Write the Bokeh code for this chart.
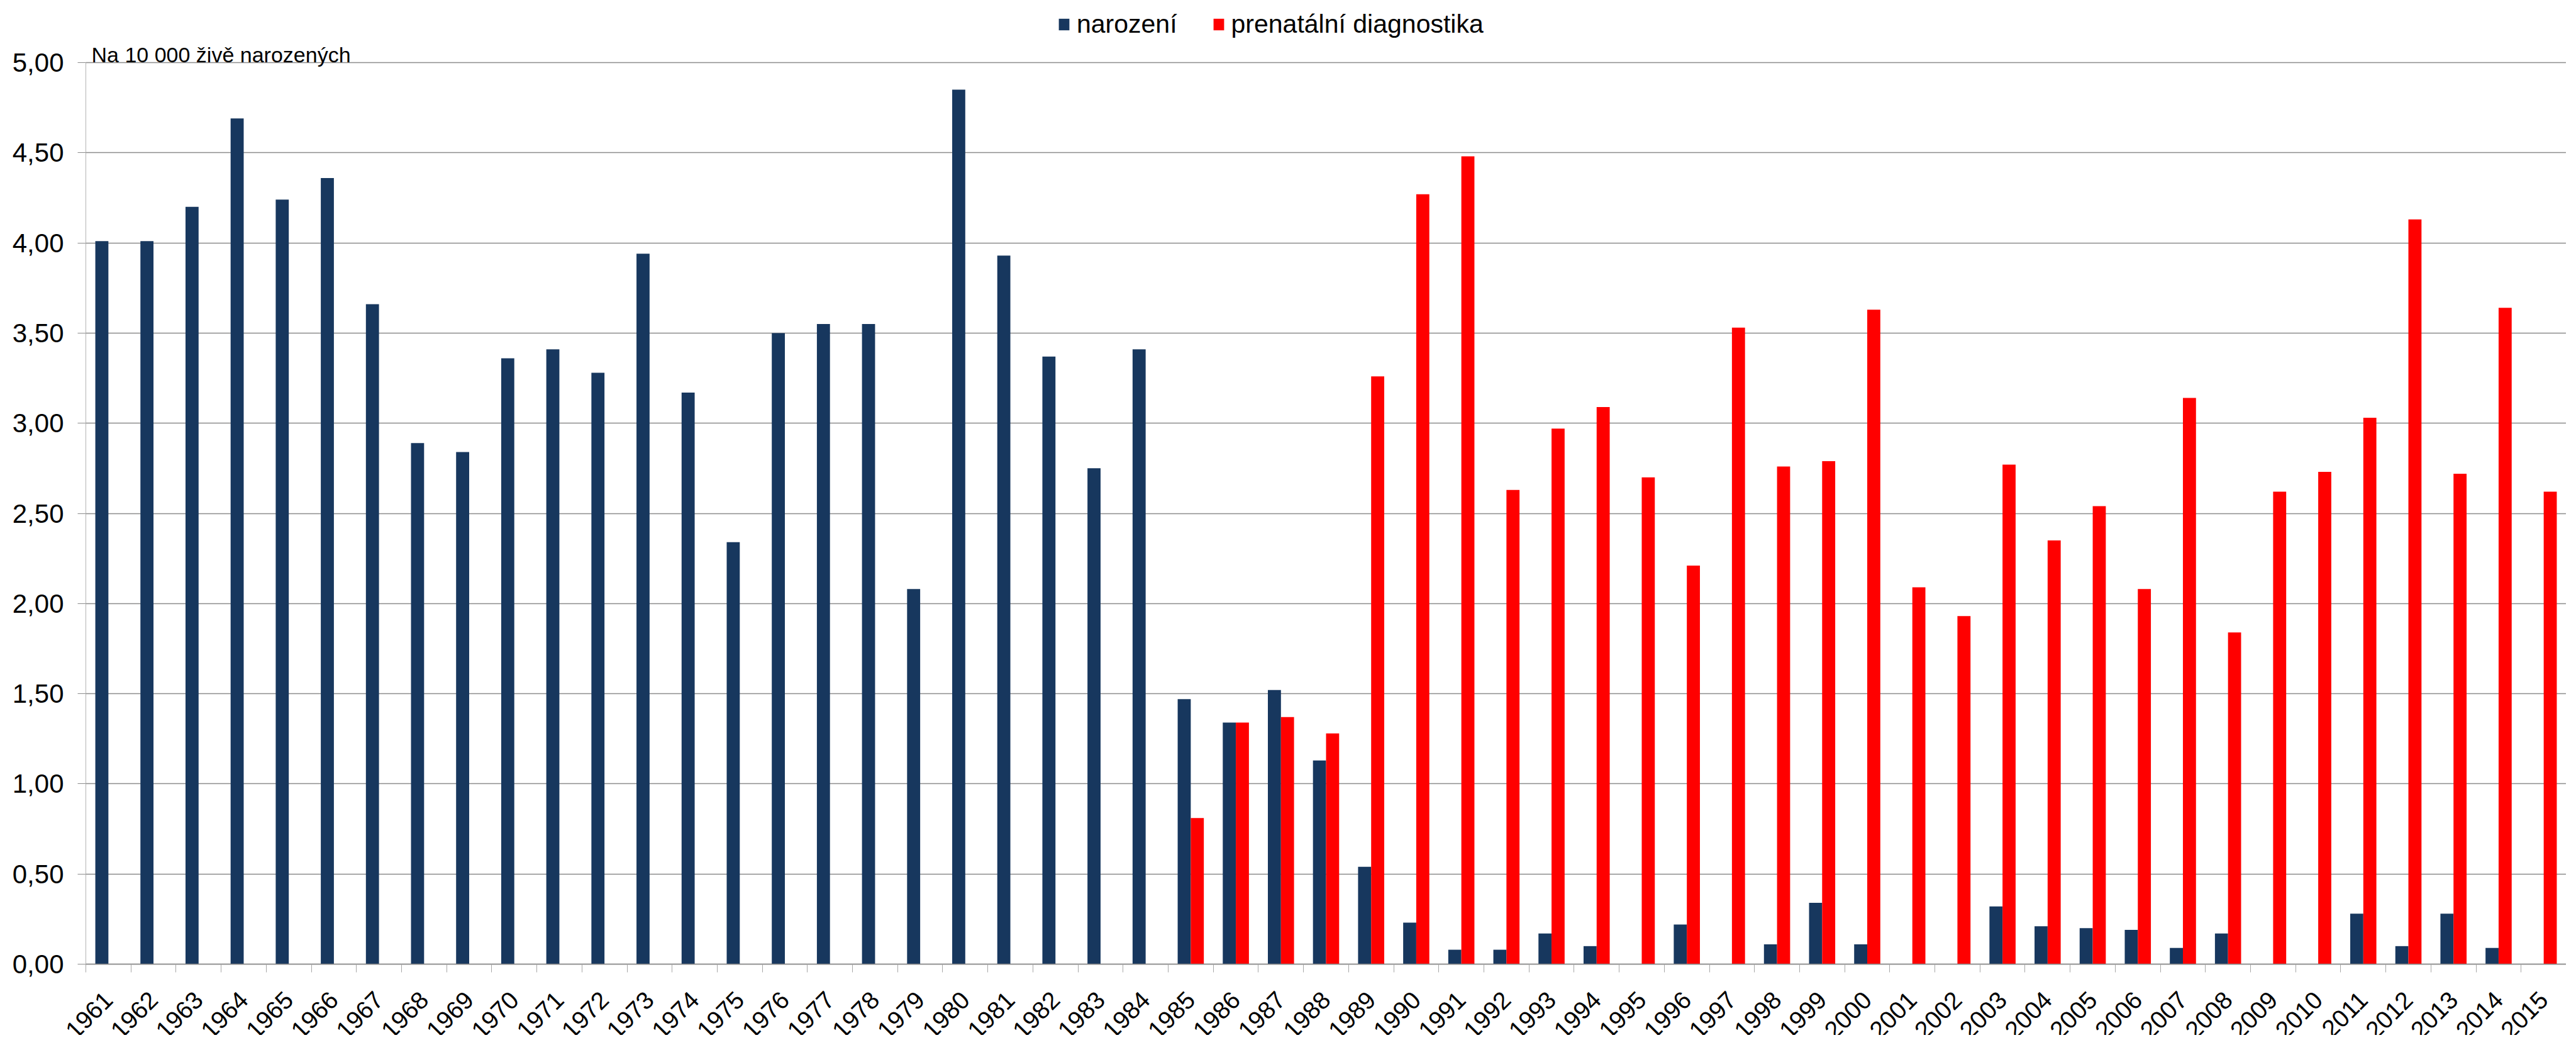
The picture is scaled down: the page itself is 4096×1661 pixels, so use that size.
from math import pi
from bokeh.plotting import figure
from bokeh.models import ColumnDataSource, Range1d, FixedTicker, Legend, LegendItem, Label
from bokeh.transform import dodge
from bokeh.embed import file_html
from bokeh.resources import INLINE

# ---------------- data ----------------
years = [str(y) for y in range(1961, 2016)]

narozeni = [4.01, 4.01, 4.20, 4.69, 4.24, 4.36, 3.66, 2.89, 2.84, 3.36,
            3.41, 3.28, 3.94, 3.17, 2.34, 3.50, 3.55, 3.55, 2.08, 4.85,
            3.93, 3.37, 2.75, 3.41, 1.47, 1.34, 1.52, 1.13, 0.54, 0.23,
            0.08, 0.08, 0.17, 0.10, 0.00, 0.22, 0.00, 0.11, 0.34, 0.11,
            0.00, 0.00, 0.32, 0.21, 0.20, 0.19, 0.09, 0.17, 0.00, 0.00,
            0.28, 0.10, 0.28, 0.09, 0.00]

prenatalni = [0.00, 0.00, 0.00, 0.00, 0.00, 0.00, 0.00, 0.00, 0.00, 0.00,
              0.00, 0.00, 0.00, 0.00, 0.00, 0.00, 0.00, 0.00, 0.00, 0.00,
              0.00, 0.00, 0.00, 0.00, 0.81, 1.34, 1.37, 1.28, 3.26, 4.27,
              4.48, 2.63, 2.97, 3.09, 2.70, 2.21, 3.53, 2.76, 2.79, 3.63,
              2.09, 1.93, 2.77, 2.35, 2.54, 2.08, 3.14, 1.84, 2.62, 2.73,
              3.03, 4.13, 2.72, 3.64, 2.62]

series_names = ["narození", "prenatální diagnostika"]
series_colors = ["#17375E", "#FF0000"]

y_ticks = [0.0, 0.5, 1.0, 1.5, 2.0, 2.5, 3.0, 3.5, 4.0, 4.5, 5.0]
y_tick_labels = ["0,00", "0,50", "1,00", "1,50", "2,00", "2,50",
                 "3,00", "3,50", "4,00", "4,50", "5,00"]

note_text = "Na 10 000 živě narozených"

# ---------------- layout (pixels) ----------------
FONT = "Liberation Sans"
W, H = 4080, 1645
X_LEFT_PX = 136            # figure px of the category area's left edge
Y5_PX, Y0_PX = 99, 1532    # figure px of value 5 and value 0
n = len(years)
ppx = (W - X_LEFT_PX) / n
x_start = -0.5 - X_LEFT_PX / ppx
x_end = n - 0.5
ppu = (Y0_PX - Y5_PX) / 5.0
y_start = -(H - Y0_PX) / ppu
y_end = 5.0 + Y5_PX / ppu

idx = list(range(n))
source = ColumnDataSource(dict(x=idx, year=years, narozeni=narozeni, prenatalni=prenatalni))

p = figure(width=W, height=H, output_backend="svg", toolbar_location=None, title=None,
           x_range=Range1d(x_start, x_end), y_range=Range1d(y_start, y_end),
           min_border_left=0, min_border_top=0, min_border_bottom=0,
           min_border_right=0)
p.outline_line_color = None
p.background_fill_color = "white"
p.border_fill_color = "white"

r1 = p.vbar(x=dodge("x", -0.145, range=p.x_range), top="narozeni", width=0.29,
            source=source, fill_color=series_colors[0], line_color=None)
r2 = p.vbar(x=dodge("x", 0.145, range=p.x_range), top="prenatalni", width=0.29,
            source=source, fill_color=series_colors[1], line_color=None)

# x axis (drawn at value 0 inside the frame)
xa = p.xaxis[0]
xa.fixed_location = 0
xa.bounds = (-0.5, n - 0.5)
xa.ticker = FixedTicker(ticks=idx, minor_ticks=[i - 0.5 for i in range(n + 1)])
xa.major_label_overrides = {i: years[i] for i in idx}
xa.major_tick_out = 0
xa.major_tick_in = 0
xa.minor_tick_out = 13
xa.minor_tick_in = 0
xa.minor_tick_line_color = "#a6a6a6"
xa.axis_line_color = "#8c8c8c"
xa.axis_line_width = 1.5
xa.major_label_orientation = pi / 4
xa.major_label_standoff = 37
xa.major_label_text_font = FONT
xa.major_label_text_font_size = "39px"
xa.major_label_text_color = "black"

# y axis (drawn at the left edge of the category area)
ya = p.yaxis[0]
ya.fixed_location = -0.5
ya.bounds = (0, 5)
ya.ticker = FixedTicker(ticks=y_ticks)
ya.major_label_overrides = {t: l for t, l in zip(y_ticks, y_tick_labels)}
ya.major_tick_out = 13
ya.major_tick_in = 0
ya.major_tick_line_color = "#8c8c8c"
ya.minor_tick_out = 0
ya.minor_tick_in = 0
ya.axis_line_color = "#b3b3b3"
ya.major_label_standoff = 22
ya.major_label_text_font = FONT
ya.major_label_text_font_size = "42px"
ya.major_label_text_color = "black"

p.xgrid.grid_line_color = None
p.ygrid.grid_line_color = "#8c8c8c"
p.ygrid.grid_line_width = 1.3
p.ygrid.cross_bounds = (-0.5, n - 0.5)

# legend (top centre)
leg_h = 47
legend = Legend(items=[LegendItem(label=series_names[0], renderers=[r1]),
                       LegendItem(label=series_names[1], renderers=[r2])],
                orientation="horizontal", location=(1681, H - 38 - leg_h / 2),
                glyph_width=21, glyph_height=23, label_standoff=10, spacing=55,
                padding=0, margin=0, border_line_color=None, background_fill_alpha=0,
                label_text_font=FONT, label_text_font_size="41px", label_text_color="black")
p.add_layout(legend)

# unit note
p.add_layout(Label(x=-0.5, y=5.0, x_offset=9, y_offset=13, text=note_text,
                   text_font=FONT, text_font_size="34px", text_color="black",
                   text_baseline="alphabetic", text_align="left"))

open("out.html", "w").write(file_html(p, INLINE))
